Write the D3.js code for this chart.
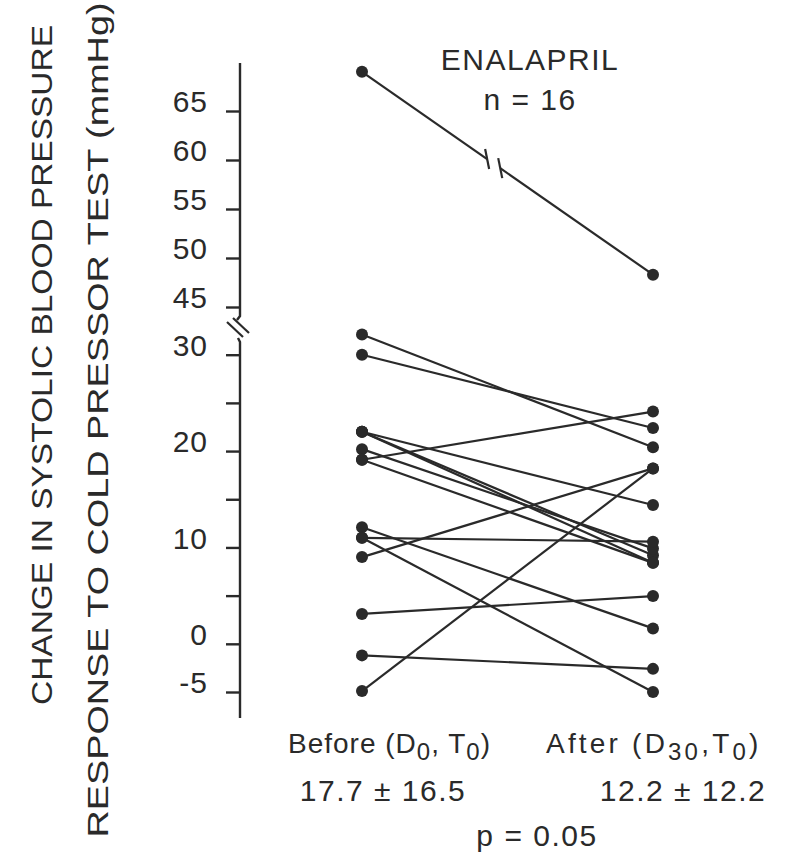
<!DOCTYPE html>
<html>
<head>
<meta charset="utf-8">
<script src="https://cdn.jsdelivr.net/npm/d3@7"></script>
<style>
  body { margin: 0; background: #fff; }
  svg { display: block; }
  text { font-family: "Liberation Sans", Arial, sans-serif; fill: #2a2a2a; }
</style>
</head>
<body>
<div id="chart"></div>
<script>
// paired values, before (D0,T0) and after (D30,T0), one entry per patient
let before = [69, 32.1, 30, 22, 22, 22, 20.2, 19.1, 19.1, 12.1, 11, 11, 9, 3.1, -1.2, -4.9];
let after  = [48.3, 20.4, 22.4, 14.4, 9.2, 8.4, 9.9, 24.1, 8.4, 1.6, 10.6, -5, 18.2, 4.95, -2.6, 18.2];

let upperTicks = [45, 50, 55, 60, 65];
let lowerTicks = [-5, 0, 5, 10, 15, 20, 25, 30];
let lowerLabels = [-5, 0, 10, 20, 30];

let groupLabels = ["Before", "After"];

let w = 802, h = 855;
let axisX = 240;
let ink = "#2a2a2a";

let svg = d3.select("#chart").append("svg")
    .attr("width", w)
    .attr("height", h)
;

// broken y axis: two linear pieces
let yHi = d3.scaleLinear().domain([45, 65]).range([307, 111]);
let yLo = d3.scaleLinear().domain([-5, 30]).range([692, 354.7]);
function y(v){
  return v >= 40 ? yHi(v) : yLo(v);
}
let x = d3.scalePoint().domain(groupLabels).range([362, 653]);

// axes
let hiAxis = d3.axisLeft(yHi).tickValues(upperTicks).tickSize(14).tickPadding(18);
let loAxis = d3.axisLeft(yLo).tickValues(lowerTicks).tickSize(14).tickPadding(18)
    .tickFormat(function(d){ return lowerLabels.includes(d) ? d : ""; });

let hiGroup = svg.append("g").attr("transform", "translate(" + axisX + ",0)").call(hiAxis);
let loGroup = svg.append("g").attr("transform", "translate(" + axisX + ",0)").call(loAxis);

[hiGroup, loGroup].forEach(function(g){
  g.select(".domain").remove();
  g.selectAll("line").attr("stroke", ink).attr("stroke-width", 2.4);
  g.selectAll("text")
    .attr("font-size", 30)
    .attr("dy", "0.03em")
    .attr("letter-spacing", 1)
    .style("fill", ink)
    .style("font-family", "\"Liberation Sans\", Arial, sans-serif");
});

// axis spine with the break
svg.append("path")
  .attr("d", "M" + axisX + ",63 L" + axisX + ",316 L" + (axisX - 3) + ",320")
  .attr("fill", "none").attr("stroke", ink).attr("stroke-width", 2.4);
svg.append("path")
  .attr("d", "M" + (axisX - 2) + ",338 L" + axisX + ",342 L" + axisX + ",718")
  .attr("fill", "none").attr("stroke", ink).attr("stroke-width", 2.4);
svg.append("line").attr("x1", 227).attr("y1", 322).attr("x2", 243).attr("y2", 337)
  .attr("stroke", ink).attr("stroke-width", 2.2);
svg.append("line").attr("x1", 233).attr("y1", 318).attr("x2", 249).attr("y2", 333)
  .attr("stroke", ink).attr("stroke-width", 2.2);

// paired lines
let pairs = before.map(function(b, i){ return { b: b, a: after[i] }; });

let lineGroup = svg.append("g");
pairs.forEach(function(d){
  let x0 = x("Before"), y0 = y(d.b), x1 = x("After"), y1 = y(d.a);
  if (d.b >= 40 && d.a >= 40) {
    // line crosses the scale break: draw it with a gap and two marks
    let t0 = 0.43, t1 = 0.475;
    let px = function(t){ return x0 + (x1 - x0) * t; };
    let py = function(t){ return y0 + (y1 - y0) * t; };
    lineGroup.append("line")
      .attr("x1", x0).attr("y1", y0).attr("x2", px(t0)).attr("y2", py(t0))
      .attr("stroke", ink).attr("stroke-width", 2.2);
    lineGroup.append("line")
      .attr("x1", px(t1)).attr("y1", py(t1)).attr("x2", x1).attr("y2", y1)
      .attr("stroke", ink).attr("stroke-width", 2.2);
    [t0, t1].forEach(function(t){
      lineGroup.append("line")
        .attr("x1", px(t) - 2).attr("y1", py(t) - 10)
        .attr("x2", px(t) + 2).attr("y2", py(t) + 10)
        .attr("stroke", ink).attr("stroke-width", 2.2);
    });
  } else {
    lineGroup.append("line")
      .attr("x1", x0).attr("y1", y0).attr("x2", x1).attr("y2", y1)
      .attr("stroke", ink).attr("stroke-width", 2.2);
  }
});

let dots = svg.append("g");
dots.selectAll(".before").data(before).enter()
  .append("circle")
    .attr("class", "before")
    .attr("cx", x("Before"))
    .attr("cy", function(d){ return y(d); })
    .attr("r", 6)
    .attr("fill", ink)
;
dots.selectAll(".after").data(after).enter()
  .append("circle")
    .attr("class", "after")
    .attr("cx", x("After"))
    .attr("cy", function(d){ return y(d); })
    .attr("r", 6)
    .attr("fill", ink)
;

// title
svg.append("text").attr("x", 530).attr("y", 70).attr("text-anchor", "middle")
  .attr("font-size", 30).attr("letter-spacing", 1.5).text("ENALAPRIL");
svg.append("text").attr("x", 530).attr("y", 110).attr("text-anchor", "middle")
  .attr("font-size", 30).attr("letter-spacing", 1.5).text("n = 16");

// y axis title (two rotated lines)
let yTitle = svg.append("g");
yTitle.append("text")
  .attr("transform", "translate(52,365) rotate(-90)")
  .attr("text-anchor", "middle").attr("font-size", 30)
  .attr("textLength", 680).attr("lengthAdjust", "spacingAndGlyphs")
  .text("CHANGE IN SYSTOLIC BLOOD PRESSURE");
yTitle.append("text")
  .attr("transform", "translate(108,420) rotate(-90)")
  .attr("text-anchor", "middle").attr("font-size", 30)
  .attr("textLength", 835).attr("lengthAdjust", "spacingAndGlyphs")
  .text("RESPONSE TO COLD PRESSOR TEST (mmHg)");

// bottom labels with subscripts
function subLabel(left, cy, spacing, parts){
  let t = svg.append("text").attr("x", left).attr("y", cy)
    .attr("font-size", 28)
    .attr("letter-spacing", spacing);
  parts.forEach(function(p){
    let s = t.append("tspan").text(p[0]);
    if (p[1]) s.attr("font-size", 24).attr("baseline-shift", "-28%");
  });
  return t;
}
subLabel(288, 753, 1, [["Before (D"], ["0", true], [", T"], ["0", true], [")"]]);
subLabel(546, 753, 3.2, [["After  (D"], ["30", true], [",T"], ["0", true], [")"]]);

svg.append("text").attr("x", 383).attr("y", 801).attr("text-anchor", "middle")
  .attr("font-size", 30).attr("letter-spacing", 1.5).text("17.7 ± 16.5");
svg.append("text").attr("x", 683).attr("y", 801).attr("text-anchor", "middle")
  .attr("font-size", 30).attr("letter-spacing", 1.5).text("12.2 ± 12.2");
svg.append("text").attr("x", 537).attr("y", 846).attr("text-anchor", "middle")
  .attr("font-size", 30).attr("letter-spacing", 1.5).text("p = 0.05");
</script>
</body>
</html>
